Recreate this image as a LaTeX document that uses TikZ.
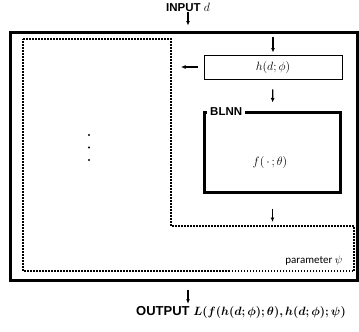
\documentclass[tikz,border=0pt]{standalone}
\usepackage{fontspec}
\usepackage{amsmath,bm}
\setsansfont{Liberation Sans}
\newfontfamily\calfont{Carlito}
\usetikzlibrary{arrows.meta}
\begin{document}
\begin{tikzpicture}[x=1pt,y=-1pt,
	arr/.style={-{Latex[length=4.5pt,width=4pt]},line width=1.3pt},
	frame/.style={draw,line width=3pt,inner sep=0},
	lbl/.style={font=\sffamily\bfseries\fontsize{11.5}{13}\selectfont,inner sep=1pt}]
\useasboundingbox (0,0) rectangle (359,332);
% boxes
\node[frame,minimum width=347pt,minimum height=248pt] (outer) at (184,156) {};
\node[draw,line width=1pt,minimum width=138pt,minimum height=24pt,
	font=\fontsize{13}{15}\selectfont] (h) at (273,67) {$h(d;\phi)$};
\node[frame,minimum width=136pt,minimum height=80pt] (blnn) at (272.5,152) {};
\node[lbl,fill=white,anchor=west,inner xsep=3pt] (blnnlbl) at (207,112) {BLNN};
\node[font=\fontsize{13}{15}\selectfont] (f) at (270,162) {$f(\,\cdot\,;\theta)$};
% parameter region
\coordinate (p1) at (23,39);
\coordinate (p2) at (171,39);
\coordinate (p3) at (171,226);
\coordinate (p4) at (354,226);
\coordinate (p5) at (354,271);
\coordinate (p6) at (23,271);
\draw[line width=1.5pt,dash pattern=on 1.5pt off 1.5pt] (p1) -- (p2) -- (p3) -- (p4) -- (p5) -- (p6) -- cycle;
\node[font=\calfont\fontsize{11}{13}\selectfont,anchor=east] (psi) at (346,261) {parameter $\psi$};
\foreach \y in {135,147.5,160}
	\fill (89,\y) circle (1.1pt);
% input and output
\node[lbl] (input) at (188,7) {INPUT $d$};
\node[lbl,font=\sffamily\bfseries\fontsize{13}{15}\selectfont] (output) at (241,312)
	{OUTPUT $\bm{L(f(h(d;\phi);\theta),h(d;\phi);\psi)}$};
% arrows
\draw[arr,shorten >=5pt] (input.south) -- (input.south |- outer.north);
\draw[arr,shorten <=6pt,shorten >=2pt] (h.north |- outer.north) -- (h.north);
\draw[arr,shorten <=6pt,shorten >=10pt] (h.west) -- (h.west -| p2);
\draw[arr,shorten <=10pt,shorten >=8pt] (h.south) -- (blnn.north);
\draw[arr,shorten <=15pt,shorten >=4pt] (blnn.south) -- (blnn.south |- p3);
\draw[arr,shorten <=8pt,shorten >=1pt] (input |- outer.south) -- (input |- output.north);
\end{tikzpicture}
\end{document}
